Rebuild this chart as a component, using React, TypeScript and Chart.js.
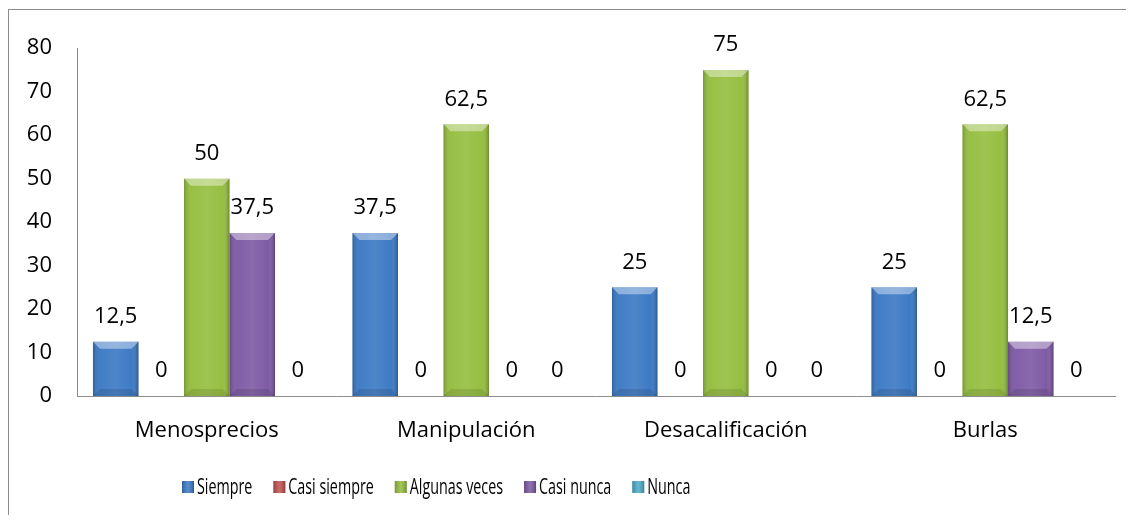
import React, { useEffect, useRef } from "react";
import { Chart, registerables } from "chart.js";

Chart.register(...registerables);

const categories = ["Menosprecios", "Manipulación", "Desacalificación", "Burlas"];
const seriesNames = ["Siempre", "Casi siempre", "Algunas veces", "Casi nunca", "Nunca"];
const siempre = [12.5, 37.5, 25, 25];
const casiSiempre = [0, 0, 0, 0];
const algunasVeces = [50, 62.5, 75, 62.5];
const casiNunca = [37.5, 0, 0, 12.5];
const nunca = [0, 0, 0, 0];
const seriesColors = ["#3A78C3", "#C0504D", "#94BD3E", "#7D58A3", "#4BACC6"];
const yTicks = [0, 10, 20, 30, 40, 50, 60, 70, 80];

const FONT = "'Open Sans', 'DejaVu Sans', sans-serif";

const bevelPlugin = {
  id: "bevel",
  afterDatasetsDraw(chart: any) {
    const ctx = chart.ctx;
    chart.data.datasets.forEach((_ds: any, di: number) => {
      const meta = chart.getDatasetMeta(di);
      meta.data.forEach((bar: any) => {
        const { x, y, base, width } = bar.getProps(["x", "y", "base", "width"], true);
        const l = x - width / 2;
        const r = x + width / 2;
        const t = Math.min(y, base);
        const bt = Math.max(y, base);
        const h = bt - t;
        if (h < 1) return;
        const b = Math.min(7, h / 2);
        ctx.save();
        const g = ctx.createLinearGradient(l, 0, r, 0);
        g.addColorStop(0, "rgba(0,0,0,0.2)");
        g.addColorStop(0.15, "rgba(255,255,255,0.04)");
        g.addColorStop(0.5, "rgba(255,255,255,0.1)");
        g.addColorStop(0.85, "rgba(255,255,255,0.02)");
        g.addColorStop(1, "rgba(0,0,0,0.28)");
        ctx.fillStyle = g;
        ctx.fillRect(l, t, width, h);
        // top bevel
        ctx.beginPath();
        ctx.moveTo(l, t);
        ctx.lineTo(r, t);
        ctx.lineTo(r - b, t + b);
        ctx.lineTo(l + b, t + b);
        ctx.closePath();
        ctx.fillStyle = "rgba(255,255,255,0.4)";
        ctx.fill();
        // bottom bevel
        ctx.beginPath();
        ctx.moveTo(l, bt);
        ctx.lineTo(r, bt);
        ctx.lineTo(r - b, bt - b);
        ctx.lineTo(l + b, bt - b);
        ctx.closePath();
        ctx.fillStyle = "rgba(0,0,0,0.1)";
        ctx.fill();
        ctx.restore();
      });
    });
  },
};

const dataLabelPlugin = {
  id: "valueLabels",
  afterDatasetsDraw(chart: any) {
    const ctx = chart.ctx;
    ctx.save();
    ctx.font = `22px ${FONT}`;
    ctx.fillStyle = "#000";
    ctx.textAlign = "center";
    ctx.textBaseline = "middle";
    chart.data.datasets.forEach((ds: any, di: number) => {
      const meta = chart.getDatasetMeta(di);
      meta.data.forEach((bar: any, i: number) => {
        const v = ds.data[i];
        ctx.fillText(String(v).replace(".", ","), bar.x, bar.y - 25);
      });
    });
    ctx.restore();
  },
};

const legendPlugin = {
  id: "customLegend",
  afterDraw(chart: any) {
    const ctx = chart.ctx;
    ctx.save();
    ctx.font = `22px ${FONT}`;
    ctx.textBaseline = "middle";
    ctx.textAlign = "left";
    const sx = 0.65;
    let x = 173;
    const cy = 477;
    chart.data.datasets.forEach((ds: any) => {
      const box = 12;
      ctx.fillStyle = ds.backgroundColor;
      ctx.fillRect(x, cy - box / 2, box, box);
      const g = ctx.createLinearGradient(x, 0, x + box, 0);
      g.addColorStop(0, "rgba(0,0,0,0.2)");
      g.addColorStop(0.5, "rgba(255,255,255,0.15)");
      g.addColorStop(1, "rgba(0,0,0,0.25)");
      ctx.fillStyle = g;
      ctx.fillRect(x, cy - box / 2, box, box);
      ctx.fillStyle = "#000";
      const tx = x + box + 3;
      ctx.save();
      ctx.translate(tx, cy + 1);
      ctx.scale(sx, 1);
      ctx.fillText(ds.label, 0, 0);
      ctx.restore();
      x = tx + ctx.measureText(ds.label).width * sx + 21;
    });
    ctx.restore();
  },
};

export default function App() {
  const ref = useRef<HTMLCanvasElement | null>(null);
  useEffect(() => {
    if (!ref.current) return;
    const values = [siempre, casiSiempre, algunasVeces, casiNunca, nunca];
    const chart = new Chart(ref.current, {
      type: "bar",
      data: {
        labels: categories,
        datasets: seriesNames.map((name, i) => ({
          label: name,
          data: values[i],
          backgroundColor: seriesColors[i],
          borderWidth: 0,
          categoryPercentage: 0.877,
          barPercentage: 1,
        })),
      },
      plugins: [bevelPlugin, dataLabelPlugin, legendPlugin],
      options: {
        animation: false,
        responsive: false,
        maintainAspectRatio: false,
        layout: { padding: { top: 30, right: 11, bottom: 72, left: 0 } },
        plugins: {
          legend: { display: false },
          tooltip: { enabled: false },
        },
        scales: {
          x: {
            grid: { display: false, drawTicks: false },
            border: { display: true, color: "#8C8C8C", width: 1 },
            ticks: { color: "#000", font: { family: FONT, size: 22 }, padding: 22 },
            afterFit: (s: any) => {
              s.height = 47;
            },
          },
          y: {
            min: 0,
            max: 80,
            grid: { display: false, drawTicks: false },
            border: { display: true, color: "#8C8C8C", width: 1 },
            afterBuildTicks: (s: any) => {
              s.ticks = yTicks.map((v) => ({ value: v }));
            },
            ticks: { color: "#000", font: { family: FONT, size: 22 }, padding: 25 },
            afterFit: (s: any) => {
              s.width = 68;
            },
          },
        },
      },
    });
    return () => chart.destroy();
  }, []);
  return (
    <div
      style={{
        marginTop: 1,
        borderLeft: "1px solid #8C8C8C",
        borderTop: "1px solid #8C8C8C",
        width: 1117,
        height: 505,
      }}
    >
      <canvas ref={ref} width={1117} height={505} style={{ display: "block" }} />
    </div>
  );
}
